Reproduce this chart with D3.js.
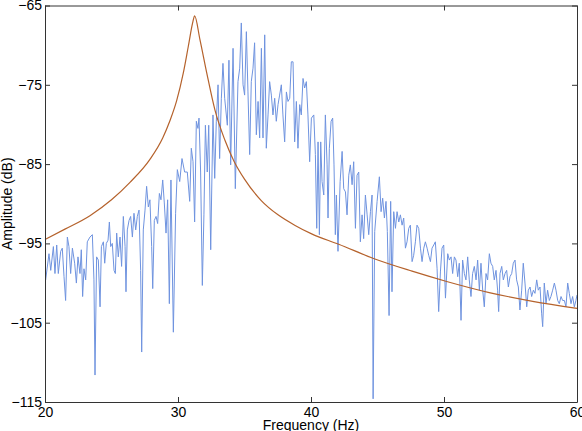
<!DOCTYPE html>
<html>
<head>
<meta charset="utf-8">
<script src="https://d3js.org/d3.v7.min.js"></script>
<style>
  body { margin: 0; background: #fff; }
  svg { display: block; font-family: "Liberation Sans", Arial, sans-serif; }
  .axis text { font-size: 14px; fill: #000; }
  .axis path, .axis line { stroke: #333; }
</style>
</head>
<body>
<div id="chart"></div>
<script>
// measured spectrum (Hz, dB)
const measFreq = [20.0,20.05,20.3,20.43,20.63,20.75,20.88,21.0,21.18,21.3,21.43,21.55,21.68,21.8,21.93,22.06,22.23,22.36,22.48,22.63,22.73,22.83,22.93,23.06,23.18,23.38,23.56,23.68,23.76,23.88,24.01,24.14,24.24,24.39,24.49,24.61,24.74,24.84,24.94,25.06,25.19,25.29,25.39,25.51,25.64,25.76,25.89,26.02,26.09,26.19,26.32,26.44,26.57,26.69,26.82,26.94,27.07,27.19,27.27,27.39,27.52,27.64,27.77,27.89,28.02,28.1,28.22,28.35,28.47,28.6,28.72,28.85,28.97,29.1,29.22,29.35,29.47,29.65,29.82,29.95,
  30.13,30.3,30.5,30.7,30.88,31.0,31.13,31.25,31.38,31.5,31.58,31.7,31.83,31.95,32.06,32.2,32.31,32.46,32.63,32.76,32.88,33.01,33.13,33.26,33.38,33.51,33.71,33.83,33.96,34.14,34.31,34.51,34.64,34.76,34.89,35.01,35.14,35.26,35.39,35.51,35.64,35.76,35.89,36.02,36.14,36.27,36.39,36.52,36.64,36.77,36.89,37.02,37.14,37.27,37.39,37.52,37.64,37.77,37.89,38.02,38.15,38.27,38.4,38.52,38.65,38.77,38.9,39.02,39.15,39.27,39.4,39.52,39.65,39.77,39.9,40.03,
  40.21,40.33,40.43,40.53,40.63,40.73,40.83,40.96,41.08,41.21,41.28,41.38,41.51,41.63,41.73,41.83,41.91,42.03,42.19,42.34,42.46,42.59,42.71,42.84,42.96,43.09,43.21,43.34,43.46,43.59,43.71,43.84,43.96,44.09,44.22,44.34,44.47,44.59,44.67,44.79,44.97,45.14,45.27,45.39,45.52,45.64,45.74,45.87,45.99,46.09,46.22,46.35,46.47,46.6,46.72,46.85,46.97,47.1,47.22,47.35,47.47,47.6,47.72,47.85,47.97,48.1,48.23,48.35,48.48,48.6,48.73,48.85,48.98,49.1,49.23,49.35,49.48,49.6,49.73,49.85,49.98,50.11,
  50.28,50.4,50.53,50.65,50.78,50.9,51.03,51.15,51.28,51.4,51.53,51.65,51.78,51.9,52.03,52.15,52.28,52.41,52.53,52.66,52.78,52.91,53.03,53.16,53.28,53.41,53.53,53.66,53.78,53.91,54.03,54.11,54.21,54.34,54.46,54.59,54.71,54.84,54.96,55.09,55.21,55.34,55.46,55.59,55.71,55.84,55.96,56.09,56.22,56.34,56.47,56.59,56.72,56.84,56.97,57.09,57.22,57.34,57.42,57.54,57.67,57.79,57.92,58.04,58.17,58.3,58.42,58.55,58.67,58.8,58.92,59.05,59.17,59.3,59.42,59.55,59.67,59.8,59.92,60.0];
const measAmp = [-99.2,-99.6,-96.3,-98.4,-95.4,-98.8,-95.2,-98.8,-96.0,-95.6,-99.2,-102.2,-94.2,-95.4,-98.8,-95.6,-97.5,-100.0,-96.7,-98.8,-95.8,-101.7,-98.2,-99.6,-94.8,-94.2,-93.9,-99.6,-111.6,-96.7,-97.1,-103.0,-95.4,-94.8,-97.5,-95.0,-94.6,-92.3,-95.4,-95.0,-98.4,-98.8,-93.7,-96.7,-94.2,-97.9,-91.6,-95.4,-101.1,-93.3,-92.1,-91.6,-94.2,-91.2,-93.3,-91.6,-90.8,-98.4,-108.7,-93.3,-90.8,-87.8,-90.4,-89.5,-95.4,-100.7,-92.1,-91.6,-92.5,-88.7,-89.5,-87.0,-89.9,-93.7,-89.5,-102.6,-87.0,-106.2,-91.2,-85.7,
  -87.2,-84.3,-86.0,-86.0,-89.7,-83.0,-84.7,-92.3,-79.6,-80.5,-79.2,-86.0,-100.3,-91.4,-80.1,-86.0,-80.1,-95.8,-78.8,-86.8,-79.6,-75.0,-84.3,-76.7,-72.3,-76.7,-80.1,-71.9,-85.1,-70.4,-88.1,-74.6,-72.9,-67.2,-75.0,-76.3,-68.3,-75.9,-83.8,-74.6,-72.9,-69.7,-81.3,-77.1,-81.7,-70.4,-81.7,-68.7,-83.0,-78.8,-74.6,-76.3,-78.8,-76.7,-79.6,-77.5,-76.3,-75.0,-78.8,-82.2,-75.9,-77.1,-76.7,-72.1,-72.1,-82.2,-77.1,-83.0,-77.5,-78.8,-74.2,-75.4,-74.6,-78.8,-84.7,-79.2,
  -78.8,-83.8,-93.1,-82.2,-93.9,-82.2,-87.2,-88.9,-78.8,-85.1,-91.8,-83.0,-79.6,-79.2,-85.1,-93.9,-88.9,-96.0,-87.2,-83.4,-88.1,-88.5,-91.4,-86.4,-85.1,-87.6,-84.7,-93.1,-86.4,-86.0,-94.8,-91.4,-94.4,-88.9,-91.4,-93.9,-91.0,-88.9,-114.6,-93.5,-89.7,-86.6,-91.0,-89.3,-91.8,-89.7,-93.5,-104.1,-89.7,-101.1,-91.0,-93.1,-91.0,-92.3,-91.4,-92.7,-91.8,-95.6,-94.8,-93.1,-92.7,-97.3,-96.5,-94.8,-92.7,-93.1,-95.6,-97.3,-95.6,-94.8,-95.6,-96.5,-97.3,-95.6,-95.2,-94.8,-98.2,-103.6,-98.6,-95.6,-95.2,-101.9,
  -96.3,-97.1,-96.7,-98.8,-96.7,-97.1,-99.2,-97.5,-104.7,-97.1,-98.8,-99.6,-96.7,-99.6,-101.7,-98.8,-97.9,-99.6,-97.1,-100.9,-97.5,-100.9,-103.0,-98.8,-99.6,-96.3,-97.5,-97.9,-99.6,-98.4,-100.9,-103.6,-98.8,-97.9,-99.6,-98.8,-98.4,-100.5,-99.2,-98.8,-97.5,-97.1,-99.6,-100.5,-103.4,-100.9,-97.5,-100.0,-103.0,-100.9,-100.5,-101.7,-100.9,-101.3,-99.6,-100.9,-100.5,-103.8,-105.5,-100.0,-102.6,-100.9,-102.2,-101.7,-100.9,-100.0,-100.9,-102.2,-102.6,-101.7,-102.2,-102.2,-103.0,-100.0,-101.3,-102.6,-101.7,-103.0,-102.2,-101.5];

// model response (Hz, dB)
const modelFreq = [20.0, 21.5, 23.38, 25.0, 26.39, 27.89, 28.85, 29.4, 29.9, 30.4, 30.77, 31.1, 31.25, 31.65, 32.16, 32.78, 33.53, 34.2, 35.0, 36.26, 37.52, 38.77, 40.05, 42.08, 44.7, 47.6, 50.2, 53.4, 56.67, 60.0];
const modelAmp = [-94.5, -93.2, -91.5, -89.5, -87.3, -84.4, -81.7, -79.5, -77.0, -73.5, -70.2, -67.2, -66.3, -69.3, -73.5, -78.2, -82.0, -84.6, -86.9, -89.6, -91.4, -92.7, -93.8, -95.1, -96.9, -98.5, -99.8, -101.2, -102.3, -103.2];

const xTicks = [20, 30, 40, 50, 60];
const yTicks = [-115, -105, -95, -85, -75, -65];

const W = 582, H = 431;
const m = {left: 45, top: 5.5, right: 5, bottom: 29};
const w = W - m.left - m.right;   // 532
const h = H - m.top - m.bottom;   // 396.5

const svg = d3.select("#chart").append("svg")
  .attr("width", W).attr("height", H);

const g = svg.append("g").attr("transform", `translate(${m.left},${m.top})`);

const x = d3.scaleLinear().domain([20, 60]).range([0, w]);
const y = d3.scaleLinear().domain([-115, -65]).range([h, 0]);

//lines
g.append("defs").append("clipPath").attr("id", "clip")
  .append("rect").attr("width", w).attr("height", h);

const meas = measFreq.map((f, i) => [f, measAmp[i]]);
const model = modelFreq.map((f, i) => [f, modelAmp[i]]);

g.append("path")
  .datum(meas)
  .attr("clip-path", "url(#clip)")
  .attr("fill", "none")
  .attr("stroke", "#6f93df")
  .attr("stroke-width", 1)
  .attr("d", d3.line().x(d => x(d[0])).y(d => y(d[1])));

g.append("path")
  .datum(model)
  .attr("fill", "none")
  .attr("stroke", "#b5622c")
  .attr("stroke-width", 1.2)
  .attr("d", d3.line().curve(d3.curveMonotoneX).x(d => x(d[0])).y(d => y(d[1])));

//axes
g.append("g").attr("class", "axis")
  .attr("transform", `translate(0,${h})`)
  .call(d3.axisBottom(x).tickValues(xTicks).tickSize(-5).tickSizeOuter(0).tickPadding(5).tickFormat(d3.format("d")));
g.append("g").attr("class", "axis")
  .call(d3.axisTop(x).tickValues(xTicks).tickSize(-5).tickSizeOuter(0).tickFormat(""));
g.append("g").attr("class", "axis")
  .call(d3.axisLeft(y).tickValues(yTicks).tickSize(-5).tickSizeOuter(0).tickPadding(3));
g.append("g").attr("class", "axis")
  .attr("transform", `translate(${w},0)`)
  .call(d3.axisRight(y).tickValues(yTicks).tickSize(-5).tickSizeOuter(0).tickFormat(""));

//labels
svg.append("text")
  .attr("x", m.left + w / 2).attr("y", 430)
  .attr("text-anchor", "middle")
  .style("font-size", "14px")
  .text("Frequency (Hz)");

svg.append("text")
  .attr("transform", `translate(12,${m.top + h / 2}) rotate(-90)`)
  .attr("text-anchor", "middle")
  .style("font-size", "14px")
  .text("Amplitude (dB)");
</script>
</body>
</html>
